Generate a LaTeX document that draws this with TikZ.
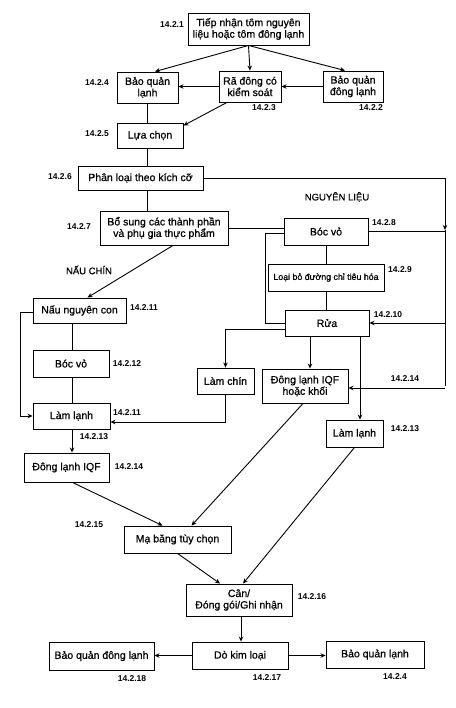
\documentclass[tikz,border=0pt]{standalone}
\usepackage{fontspec}
\setmainfont{Liberation Sans}
\newfontfamily\bx{Liberation Sans}[FakeBold=0.7]
\usetikzlibrary{arrows.meta}
\begin{document}
\begin{tikzpicture}[x=1pt,y=-1pt,
  box/.style={draw, line width=0.9pt, inner sep=0pt, align=center, font=\bx\fontsize{10.5}{11.5}\selectfont},
  num/.style={font=\bfseries\fontsize{8.5}{10}\selectfont, inner sep=0pt},
  lbl/.style={font=\bx\fontsize{9.5}{11}\selectfont, inner sep=0pt},
  ln/.style={line width=0.9pt},
  arr/.style={line width=0.9pt, -{Stealth[length=5pt,width=4.5pt]}},
]
\useasboundingbox (0,0) rectangle (455,708);
\fill[white] (0,0) rectangle (455,708);

% top
\node[box,minimum width=121pt,minimum height=32pt] (n1) at (248.5,29) {Tiếp nhận tôm nguyên\\liệu hoặc tôm đông lạnh};
\node[num] (t1) at (172,25) {14.2.1};
\node[box,minimum width=61pt,minimum height=31pt] (n4) at (147.5,87.5) {Bảo quản\\lạnh};
\node[num] (t4) at (97,83) {14.2.4};
\node[box,minimum width=62pt,minimum height=31pt] (n3) at (250,86.5) {Rã đông có\\kiểm soát};
\node[num] (t3) at (264,108) {14.2.3};
\node[box,minimum width=60pt,minimum height=31pt] (n2) at (353,86.5) {Bảo quản\\đông lạnh};
\node[num] (t2) at (371,108) {14.2.2};

\draw[arr] (n1.south) -- ([xshift=7.5pt]n4.north);
\draw[arr] (n1.south) -- (n3.north);
\draw[arr] (n1.south) -- ([xshift=-8pt]n2.north);
\draw[arr] (n2.west) -- (n3.east);
\draw[arr] (n3.west) -- (n3.west -| n4.east);

\node[box,minimum width=66pt,minimum height=25pt] (n5) at (150,135.5) {Lựa chọn};
\node[num] (t5) at (97,134) {14.2.5};
\draw[ln] (n4.south) -- (n4.south |- n5.north);
\draw[arr] ([xshift=-23pt]n3.south) -- ([yshift=-3pt]n5.north east);

\node[box,minimum width=125pt,minimum height=24pt] (n6) at (140.5,178) {Phân loại theo kích cỡ};
\node[num] (t6) at (60,177) {14.2.6};
\draw[ln] (n4.south |- n5.south) -- (n4.south |- n6.north);
\coordinate (rt) at (445,178);
\coordinate (rj) at (445,230);
\draw[ln] (n6.east) -- (rt);
\draw[arr] (rt) -- (rj);

\node[lbl] (nl) at (337,197) {NGUYÊN LIỆU};

\node[box,minimum width=128pt,minimum height=34pt] (n7) at (164,228) {Bổ sung các thành phần\\và phụ gia thực phẩm};
\node[num] (t7) at (79,227) {14.2.7};
\draw[ln] (n4.south |- n6.south) -- (n4.south |- n7.north);

% right branch
\node[box,minimum width=84pt,minimum height=27pt] (n8) at (326,231.5) {Bóc vỏ};
\node[num] (t8) at (384,223) {14.2.8};
\node[box,minimum width=116pt,minimum height=27pt,font=\bx\fontsize{8.8}{10}\selectfont] (n9) at (326,277.5) {Loại bỏ đường chỉ tiêu hóa};
\node[num] (t9) at (400,270) {14.2.9};
\node[box,minimum width=84pt,minimum height=26pt] (n10) at (327,323) {Rửa};
\node[num] (t10) at (388,315) {14.2.10};

\draw[ln] (n7.east) -- (n7.east -| n8.west);
\draw[ln] (n8.east) -- (n8.east -| rj);
\coordinate (bp) at (265,0);
\draw[ln] ([yshift=-2pt]n8.west) -| (bp |- n10.west) -- (n10.west);
\draw[ln] (n8.south) -- (n9.north);
\draw[ln] (n9.south) -- (n9.south |- n10.north);

\node[box,minimum width=57pt,minimum height=26pt] (nlc) at (225.5,381) {Làm chín};
\node[box,minimum width=86pt,minimum height=34pt] (nqR) at (305,386) {Đông lạnh IQF\\hoặc khối};
\node[box,minimum width=57pt,minimum height=27pt] (nlR) at (354.5,433.5) {Làm lạnh};
\node[num] (t14r) at (405,379) {14.2.14};
\node[num] (t13r) at (405,429) {14.2.13};

\draw[ln] (rj) -- (rj |- nqR.east);
\draw[arr] (rj |- n10.east) -- (n10.east);
\draw[arr] ([yshift=-2pt]nqR.east -| rj) -- ([yshift=-2pt]nqR.east);
\draw[arr] ([yshift=-6pt]n10.west) -| (nlc.north);
\draw[arr] ([xshift=-17pt]n10.south) -- ([xshift=-17pt]n10.south |- nqR.north);
\draw[arr] ([xshift=33pt]n10.south) -- ([xshift=33pt]n10.south |- nlR.north);

% left branch
\node[lbl] (nc) at (89,270) {NẤU CHÍN};
\node[box,minimum width=93pt,minimum height=25pt] (n11) at (79.5,310.5) {Nấu nguyên con};
\node[num] (t11) at (144,308) {14.2.11};
\node[box,minimum width=76pt,minimum height=27pt] (n12) at (71,363.5) {Bóc vỏ};
\node[num] (t12) at (127,364) {14.2.12};
\node[box,minimum width=77pt,minimum height=26pt] (n13) at (71.5,416) {Làm lạnh};
\node[num] (t11b) at (127,413) {14.2.11};
\node[num] (t13) at (94,437) {14.2.13};
\node[box,minimum width=85pt,minimum height=29pt] (n14) at (66.5,467.5) {Đông lạnh IQF};
\node[num] (t14) at (129,467) {14.2.14};

\draw[arr] ([xshift=9pt]n7.south) -- ([xshift=8pt]n11.north);
\coordinate (lc) at (72,0);
\draw[ln] (lc |- n11.south) -- (lc |- n12.north);
\draw[ln] (lc |- n12.south) -- (lc |- n13.north);
\draw[arr] (lc |- n13.south) -- (lc |- n14.north);
\draw[arr] ([yshift=-1.5pt]n11.west) -- ++(-12,0) |- (n13.west);
\draw[arr] (nlc.south) |- ([yshift=-6pt]n13.east);

% bottom
\node[box,minimum width=107pt,minimum height=27pt] (n15) at (177.5,539.5) {Mạ băng tùy chọn};
\node[num] (t15) at (89,525) {14.2.15};
\node[box,minimum width=106pt,minimum height=32pt] (n16) at (239,600) {Cân/\\Đóng gói/Ghi nhận};
\node[num] (t16) at (312,597) {14.2.16};
\node[box,minimum width=96pt,minimum height=27pt] (n17) at (240,655.5) {Dò kim loại};
\node[num] (t17) at (267,678) {14.2.17};
\node[box,minimum width=105pt,minimum height=28pt] (n18) at (101.5,656) {Bảo quản đông lạnh};
\node[num] (t18) at (132,679) {14.2.18};
\node[box,minimum width=98pt,minimum height=27pt] (n19) at (375,654.5) {Bảo quản lạnh};
\node[num] (t19) at (395,677) {14.2.4};

\draw[arr] ([xshift=6pt]n14.south) -- ([xshift=-15pt]n15.north);
\draw[arr] ([xshift=-2pt]nqR.south) -- ([xshift=14pt]n15.north);
\draw[arr] (nlR.south) -- ([xshift=4pt]n16.north);
\draw[arr] (n15.south) -- ([xshift=-19pt]n16.north);
\draw[arr] ([xshift=2pt]n16.south) -- ([xshift=2pt]n16.south |- n17.north);
\draw[arr] (n17.west) -- (n17.west -| n18.east);
\draw[arr] (n17.east) -- (n17.east -| n19.west);
\end{tikzpicture}
\end{document}
